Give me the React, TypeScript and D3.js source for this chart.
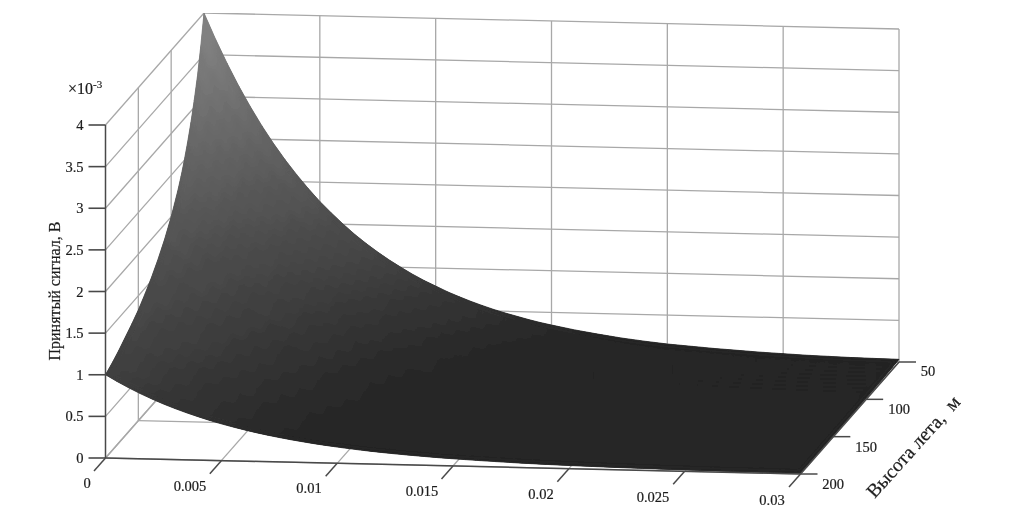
import React from "react";
import * as d3 from "d3";

const WIDTH = 1032;
const HEIGHT = 516;

// Axis ticks
const delayTicks = [0, 0.005, 0.01, 0.015, 0.02, 0.025, 0.03];
const delayTickLabels = ["0", "0.005", "0.01", "0.015", "0.02", "0.025", "0.03"];
const heightTicks = [50, 100, 150, 200];
const signalTicks = [0, 0.5, 1, 1.5, 2, 2.5, 3, 3.5, 4];
const signalTickLabels = ["0", "0.5", "1", "1.5", "2", "2.5", "3", "3.5", "4"];

// Surface sampling: flight height, м
const heightSamples = [50, 55, 60, 65, 70, 75, 80, 85, 90, 95, 100, 110, 120, 130, 140, 150, 160, 170, 180, 190, 200];
// Peak signal (×10⁻³ В) read along the x = 0 edge
const peakSignal = [4, 3.64, 3.33, 3.08, 2.86, 2.67, 2.5, 2.35, 2.22, 2.11, 2, 1.82, 1.67, 1.54, 1.43, 1.33, 1.25, 1.18, 1.11, 1.05, 1];

// Delay samples and the relative decay read along the curved edges
const delaySamples = [
  0, 0.0005, 0.001, 0.0015, 0.002, 0.0025, 0.003, 0.0035, 0.004, 0.0045,
  0.005, 0.0055, 0.006, 0.0065, 0.007, 0.0075, 0.008, 0.0085, 0.009, 0.0095,
  0.01, 0.0105, 0.011, 0.0115, 0.012, 0.0125, 0.013, 0.0135, 0.014, 0.0145,
  0.015, 0.016, 0.017, 0.018, 0.019, 0.02, 0.021, 0.022, 0.023, 0.024,
  0.025, 0.026, 0.027, 0.028, 0.029, 0.03,
];
const decay = [
  1.0, 0.922, 0.85, 0.783, 0.722, 0.665, 0.613, 0.565, 0.521, 0.48,
  0.442, 0.408, 0.376, 0.346, 0.319, 0.294, 0.271, 0.25, 0.23, 0.212,
  0.196, 0.18, 0.166, 0.153, 0.141, 0.13, 0.12, 0.111, 0.102, 0.094,
  0.087, 0.074, 0.063, 0.053, 0.045, 0.038, 0.033, 0.028, 0.024, 0.02,
  0.017, 0.014, 0.012, 0.01, 0.009, 0.008,
];

// Projection of the 3D box onto the page
const ORIGIN: [number, number] = [105.5, 458];
const X_VEC: [number, number] = [695, 16];
const H_VEC: [number, number] = [98.5, -112];
const xFrac = d3.scaleLinear().domain([0, 0.03]).range([0, 1]);
const hFrac = d3.scaleLinear().domain([200, 50]).range([0, 1]);
const zPx = d3.scaleLinear().domain([0, 4]).range([0, 333]);
const shade = d3.scaleLinear<string>().domain([0, 0.2, 1, 4]).range(["#252525", "#252525", "#404040", "#888888"]);

function project(x: number, h: number, z: number): [number, number] {
  const a = xFrac(x);
  const b = hFrac(h);
  return [ORIGIN[0] + a * X_VEC[0] + b * H_VEC[0], ORIGIN[1] + a * X_VEC[1] + b * H_VEC[1] - zPx(z)];
}

const closed = d3.line().curve(d3.curveLinearClosed);

function Seg({ a, b, stroke, w }: { a: [number, number]; b: [number, number]; stroke: string; w: number }) {
  return <line x1={a[0]} y1={a[1]} x2={b[0]} y2={b[1]} stroke={stroke} strokeWidth={w} />;
}

const GRID = "#a8a8a8";
const AXIS = "#4a4a4a";
const TEXT = "#1c1c1c";
const FONT = '"Liberation Serif", "Times New Roman", serif';

const xLabelPos = [[87, 488], [190, 491], [309, 493], [422, 496], [541, 499], [653, 502], [772, 505]];
const hLabelPos = [[928, 376], [899, 414], [866, 452], [833, 489]];

export default function App() {
  const zMax = 4;
  const xMax = 0.03;
  const hBack = 50;
  const hFront = 200;
  const last = heightSamples.length - 1;
  const lastX = delaySamples.length - 1;

  const under: React.ReactNode[] = [];
  const over: React.ReactNode[] = [];
  for (let j = 0; j < heightSamples.length - 1; j++) {
    for (let i = 0; i < delaySamples.length - 1; i++) {
      const z00 = peakSignal[j] * decay[i];
      const z10 = peakSignal[j] * decay[i + 1];
      const z01 = peakSignal[j + 1] * decay[i];
      const z11 = peakSignal[j + 1] * decay[i + 1];
      const pts = [
        project(delaySamples[i], heightSamples[j], z00),
        project(delaySamples[i + 1], heightSamples[j], z10),
        project(delaySamples[i + 1], heightSamples[j + 1], z11),
        project(delaySamples[i], heightSamples[j + 1], z01),
      ];
      const c = shade((z00 + z10 + z01 + z11) / 4);
      const d = closed(pts) as string;
      under.push(<path key={`u${i}-${j}`} d={d} fill={c} stroke={c} strokeWidth={0.8} strokeLinejoin="round" />);
      over.push(<path key={`o${i}-${j}`} d={d} fill={c} />);
    }
  }

  // Outline of the surface, used to keep the smoothing pass inside its edges
  const outline: [number, number][] = [
    ...delaySamples.map((x, i) => project(x, heightSamples[0], peakSignal[0] * decay[i])),
    ...heightSamples.map((h, j) => project(delaySamples[lastX], h, peakSignal[j] * decay[lastX])),
    ...delaySamples.map((x, i) => project(x, heightSamples[last], peakSignal[last] * decay[i])).reverse(),
    ...heightSamples.map((h, j) => project(delaySamples[0], h, peakSignal[j] * decay[0])).reverse(),
  ];

  return (
    <svg width={WIDTH} height={HEIGHT} style={{ position: "absolute", left: 0, top: 0, background: "#fff" }} fontFamily={FONT}>
      <defs>
        <filter id="soft" x="0" y="0" width="100%" height="100%">
          <feGaussianBlur stdDeviation="0.45" />
        </filter>
        <filter id="smooth" x="0" y="0" width="1032" height="516" filterUnits="userSpaceOnUse">
          <feGaussianBlur stdDeviation="3" />
        </filter>
        <clipPath id="surfaceClip">
          <path d={closed(outline) as string} />
        </clipPath>
      </defs>
      <g filter="url(#soft)">
        {/* back wall */}
        {delayTicks.map((x) => (
          <Seg key={`bv${x}`} a={project(x, hBack, 0)} b={project(x, hBack, zMax)} stroke={GRID} w={1.3} />
        ))}
        {signalTicks.map((z) => (
          <Seg key={`bh${z}`} a={project(0, hBack, z)} b={project(xMax, hBack, z)} stroke={GRID} w={1.3} />
        ))}
        {/* left wall */}
        {heightTicks.slice(0, 3).map((h) => (
          <Seg key={`lv${h}`} a={project(0, h, 0)} b={project(0, h, zMax)} stroke={GRID} w={1.3} />
        ))}
        {signalTicks.map((z) => (
          <Seg key={`lh${z}`} a={project(0, hFront, z)} b={project(0, hBack, z)} stroke={GRID} w={1.3} />
        ))}
        {/* floor */}
        {delayTicks.map((x) => (
          <Seg key={`fx${x}`} a={project(x, hFront, 0)} b={project(x, hBack, 0)} stroke={GRID} w={1.3} />
        ))}
        {heightTicks.map((h) => (
          <Seg key={`fh${h}`} a={project(0, h, 0)} b={project(xMax, h, 0)} stroke={GRID} w={1.3} />
        ))}

        {/* surface */}
        <g id="surfaceBase">{under}</g>
        {over}
        <g clipPath="url(#surfaceClip)">
          <use href="#surfaceBase" filter="url(#smooth)" />
        </g>

        {/* axes */}
        <Seg a={project(0, hFront, 0)} b={project(0, hFront, zMax)} stroke={AXIS} w={1.5} />
        <Seg a={project(0, hFront, 0)} b={project(xMax, hFront, 0)} stroke={AXIS} w={1.5} />
        <Seg a={project(xMax, hFront, 0)} b={project(xMax, hBack, 0)} stroke={AXIS} w={1.5} />

        <g fill={TEXT} stroke={TEXT} strokeWidth={0.2}>
          {signalTicks.map((z, i) => {
            const p = project(0, hFront, z);
            return (
              <g key={`zt${z}`}>
                <line x1={p[0] - 17} y1={p[1]} x2={p[0]} y2={p[1]} stroke={AXIS} strokeWidth={1.6} />
                <text x={p[0] - 22} y={p[1] + 5} textAnchor="end" fontSize={14.5}>
                  {signalTickLabels[i]}
                </text>
              </g>
            );
          })}
          {delayTicks.map((x, i) => {
            const p = project(x, hFront, 0);
            return (
              <g key={`xt${x}`}>
                <line x1={p[0]} y1={p[1]} x2={p[0] - 11.5} y2={p[1] + 13} stroke={AXIS} strokeWidth={1.5} />
                <text x={xLabelPos[i][0]} y={xLabelPos[i][1]} textAnchor="middle" fontSize={14.5}>
                  {delayTickLabels[i]}
                </text>
              </g>
            );
          })}
          {heightTicks.map((h, i) => {
            const p = project(xMax, h, 0);
            return (
              <g key={`ht${h}`}>
                <line x1={p[0]} y1={p[1]} x2={p[0] + 17} y2={p[1]} stroke={AXIS} strokeWidth={1.5} />
                <text x={hLabelPos[i][0]} y={hLabelPos[i][1]} textAnchor="middle" fontSize={14.5}>
                  {h}
                </text>
              </g>
            );
          })}

          <text x={68} y={94} fontSize={16}>
            ×10
            <tspan fontSize={11} dy={-6}>
              -3
            </tspan>
          </text>
          <text transform="translate(60,291) rotate(-90)" textAnchor="middle" fontSize={16}>
            Принятый сигнал, В
          </text>
          <text transform="translate(918,451) rotate(-48)" textAnchor="middle" fontSize={19.5} xmlSpace="preserve">
            Высота лета,  м
          </text>
        </g>
      </g>
    </svg>
  );
}
